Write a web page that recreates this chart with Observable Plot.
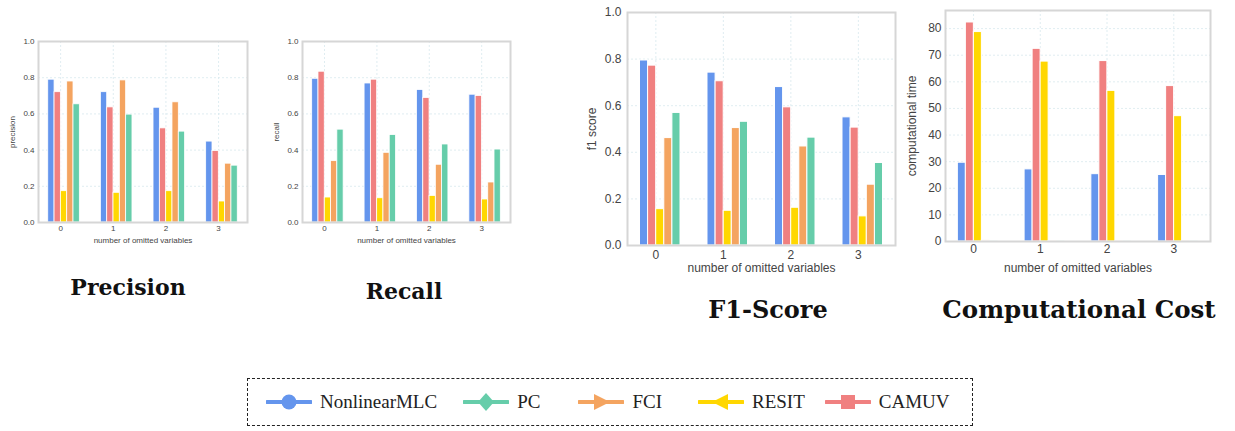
<!DOCTYPE html>
<html>
<head>
<meta charset="utf-8">
<script src="https://cdn.jsdelivr.net/npm/d3@7"></script>
<script src="https://cdn.jsdelivr.net/npm/@observablehq/plot@0.6"></script>
<style>
  html, body { margin:0; padding:0; background:#fff; }
  #root { position:relative; width:1235px; height:431px; overflow:hidden; }
  .panel { position:absolute; }
  .title { position:absolute; font-family:"DejaVu Serif", serif; font-weight:bold; color:#111; white-space:nowrap; transform:translateX(-50%); }
  #legend { position:absolute; left:247px; top:378px; width:726px; height:48px; border:1.5px dashed #222; box-sizing:border-box;
            display:flex; align-items:center; font-family:"Liberation Serif", "Times New Roman", serif; font-size:19px; color:#222; }
  .item { display:flex; align-items:center; }
  .item svg { margin-right:8px; }
</style>
</head>
<body>
<div id="root"></div>
<script>
// ---- data ----
const categories = [0, 1, 2, 3];
const methods = ["NonlinearMLC", "CAMUV", "RESIT", "FCI", "PC"]; // bar order inside each group
const methodColors = ["#6495ED", "#F08080", "#FFD700", "#F4A460", "#66CDAA"];
const legendOrder = ["NonlinearMLC", "PC", "FCI", "RESIT", "CAMUV"];
const legendSymbols = ["circle", "diamond", "triangleRight", "triangleLeft", "square"];

const precisionNonlinearMLC = [0.789, 0.720, 0.634, 0.447];
const precisionCAMUV        = [0.720, 0.636, 0.520, 0.395];
const precisionRESIT        = [0.173, 0.164, 0.173, 0.116];
const precisionFCI          = [0.779, 0.785, 0.664, 0.325];
const precisionPC           = [0.653, 0.596, 0.502, 0.314];

const recallNonlinearMLC = [0.794, 0.768, 0.732, 0.706];
const recallCAMUV        = [0.833, 0.789, 0.688, 0.699];
const recallRESIT        = [0.138, 0.134, 0.147, 0.127];
const recallFCI          = [0.339, 0.385, 0.319, 0.221];
const recallPC           = [0.513, 0.483, 0.431, 0.403];

const f1NonlinearMLC = [0.794, 0.742, 0.680, 0.550];
const f1CAMUV        = [0.772, 0.705, 0.593, 0.506];
const f1RESIT        = [0.156, 0.149, 0.162, 0.125];
const f1FCI          = [0.461, 0.504, 0.425, 0.261];
const f1PC           = [0.569, 0.531, 0.463, 0.354];

const timeNonlinearMLC = [29.6, 27.1, 25.3, 25.0];
const timeCAMUV        = [82.3, 72.4, 67.8, 58.4];
const timeRESIT        = [78.7, 67.6, 56.6, 47.1];
const timeFCI          = [0.4, 0.15, 0.15, 0.1];
const timePC           = [0.05, 0.05, 0.05, 0.05];

const unitTicks = [0, 0.2, 0.4, 0.6, 0.8, 1.0];
const timeTicks = [0, 10, 20, 30, 40, 50, 60, 70, 80];

const xLabel = "number of omitted variables";

// ---- helpers ----
function rowsFrom(series) {
  const rows = [];
  methods.forEach((m, k) => categories.forEach((c, i) => rows.push({c, k, m, v: series[k][i]})));
  return rows;
}

function panel(cfg) {
  const rows = rowsFrom(cfg.series);
  const bw = 0.12;
  const gridStyle = {stroke: "#d8e9ee", strokeOpacity: 1, strokeWidth: 0.8, strokeDasharray: "2,2"};
  const chart = Plot.plot({
    width: cfg.w, height: cfg.h,
    marginLeft: cfg.ml, marginRight: cfg.mr, marginTop: cfg.mt, marginBottom: cfg.mb,
    style: {fontFamily: "'Liberation Sans', Arial, sans-serif", fontSize: cfg.fs + "px", color: "#444", background: "transparent"},
    x: {domain: [-0.42, 3.55], ticks: categories, tickFormat: d => String(d), tickSize: 0, tickPadding: cfg.xtp,
        label: xLabel, labelAnchor: "center", labelArrow: "none", labelOffset: cfg.xlo},
    y: {domain: cfg.yDomain, ticks: cfg.yTicks, tickFormat: cfg.yFmt, tickSize: 0, tickPadding: cfg.ytp,
        label: cfg.yLabel, labelAnchor: "center", labelArrow: "none", labelOffset: cfg.ylo},
    color: {domain: methods, range: methodColors},
    marks: [
      Plot.gridX(categories, gridStyle),
      Plot.gridY(cfg.yTicks, gridStyle),
      Plot.rectY(rows, {
        x1: d => d.c - 0.235 + d.k * bw,
        x2: d => d.c - 0.235 + (d.k + 1) * bw,
        y1: 0, y2: "v", fill: "m", stroke: "white", strokeWidth: cfg.sw
      }),
      Plot.frame({stroke: "#d6d6d6", strokeWidth: 2})
    ]
  });
  const div = document.createElement("div");
  div.className = "panel";
  div.style.left = cfg.left + "px";
  div.style.top = cfg.top + "px";
  div.appendChild(chart);
  document.getElementById("root").appendChild(div);
}

const fmt1 = d => d.toFixed(1);

panel({series: [precisionNonlinearMLC, precisionCAMUV, precisionRESIT, precisionFCI, precisionPC],
  yLabel: "precision", yDomain: [0, 1], yTicks: unitTicks, yFmt: fmt1,
  left: 0, top: 30, w: 260, h: 220, ml: 38, mr: 13, mt: 11, mb: 28, fs: 8, xtp: 3, ytp: 4, xlo: 20, ylo: 29, sw: 0.8});

panel({series: [recallNonlinearMLC, recallCAMUV, recallRESIT, recallFCI, recallPC],
  yLabel: "recall", yDomain: [0, 1], yTicks: unitTicks, yFmt: fmt1,
  left: 264, top: 30, w: 260, h: 220, ml: 38, mr: 14, mt: 11, mb: 28, fs: 8, xtp: 3, ytp: 4, xlo: 20, ylo: 29, sw: 0.8});

panel({series: [f1NonlinearMLC, f1CAMUV, f1RESIT, f1FCI, f1PC],
  yLabel: "f1 score", yDomain: [0, 1], yTicks: unitTicks, yFmt: fmt1,
  left: 580, top: 0, w: 320, h: 280, ml: 47, mr: 5, mt: 12, mb: 35, fs: 12, xtp: 5, ytp: 6, xlo: 26, ylo: 40, sw: 1});

panel({series: [timeNonlinearMLC, timeCAMUV, timeRESIT, timeFCI, timePC],
  yLabel: "computational time", yDomain: [0, 86.8], yTicks: timeTicks, yFmt: d => String(d),
  left: 900, top: 0, w: 335, h: 280, ml: 45, mr: 25, mt: 10, mb: 39, fs: 12, xtp: 3, ytp: 4, xlo: 30, ylo: 38, sw: 1});

// ---- titles ----
const titles = [
  {text: "Precision", x: 128, y: 274, size: 22},
  {text: "Recall", x: 404, y: 278, size: 22},
  {text: "F1-Score", x: 768, y: 295, size: 24},
  {text: "Computational Cost", x: 1079, y: 295, size: 24.5}
];
titles.forEach(t => {
  const d = document.createElement("div");
  d.className = "title";
  d.textContent = t.text;
  d.style.left = t.x + "px";
  d.style.top = t.y + "px";
  d.style.fontSize = t.size + "px";
  document.getElementById("root").appendChild(d);
});

// ---- legend ----
const legend = document.createElement("div");
legend.id = "legend";
document.getElementById("root").appendChild(legend);
const itemMargins = [18, 26, 38, 36, 20];
legendOrder.forEach((name, i) => {
  const color = methodColors[methods.indexOf(name)];
  const item = document.createElement("div");
  item.className = "item";
  item.style.marginLeft = itemMargins[i] + "px";
  const svg = d3.create("svg").attr("width", 46).attr("height", 20);
  svg.append("line").attr("x1", 1).attr("x2", 45).attr("y1", 10).attr("y2", 10)
     .attr("stroke", color).attr("stroke-width", 4).attr("stroke-linecap", "round");
  const sym = legendSymbols[i];
  const g = svg.append("g").attr("transform", "translate(23,10)").attr("fill", color);
  if (sym === "circle") g.append("circle").attr("r", 7.5);
  else if (sym === "diamond") g.append("path").attr("d", "M0,-9L8,0L0,9L-8,0Z");
  else if (sym === "triangleRight") g.append("path").attr("d", "M9,0L-7,-8L-7,8Z");
  else if (sym === "triangleLeft") g.append("path").attr("d", "M-9,0L7,-8L7,8Z");
  else g.append("rect").attr("x", -7).attr("y", -7).attr("width", 14).attr("height", 14);
  item.appendChild(svg.node());
  const label = document.createElement("span");
  label.textContent = name;
  item.appendChild(label);
  legend.appendChild(item);
});
</script>
</body>
</html>
